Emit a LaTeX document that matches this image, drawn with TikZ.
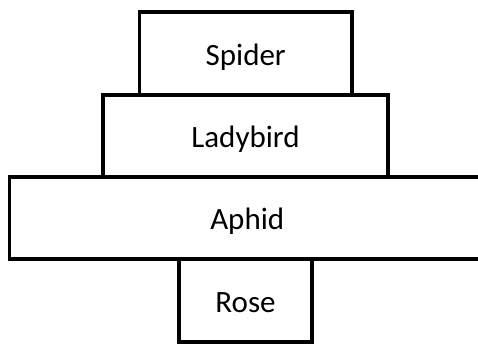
\documentclass[tikz,border=0pt]{standalone}
\usepackage{fontspec}
\setmainfont{Carlito}
\begin{document}
\begin{tikzpicture}[x=1pt,y=1pt,
  level/.style={draw=black,line width=3.6pt,fill=white,inner sep=0pt,font=\fontsize{31}{37}\selectfont,text height=29pt,text depth=6pt}]
\useasboundingbox (0,0) rectangle (478,-345);
\clip (0,0) rectangle (478,-345);
\node[level,minimum width=212.5pt,minimum height=83pt] (spider) at (245.75,-53.5) {Spider};
\node[level,minimum width=285pt,minimum height=82pt] (ladybird) at (245.5,-136) {Ladybird};
\node[level,minimum width=133pt,minimum height=83pt] (rose) at (245.5,-300.5) {Rose};
\node[level,minimum width=475.5pt,minimum height=82pt] (aphid) at (247.25,-218) {Aphid};
\end{tikzpicture}
\end{document}
